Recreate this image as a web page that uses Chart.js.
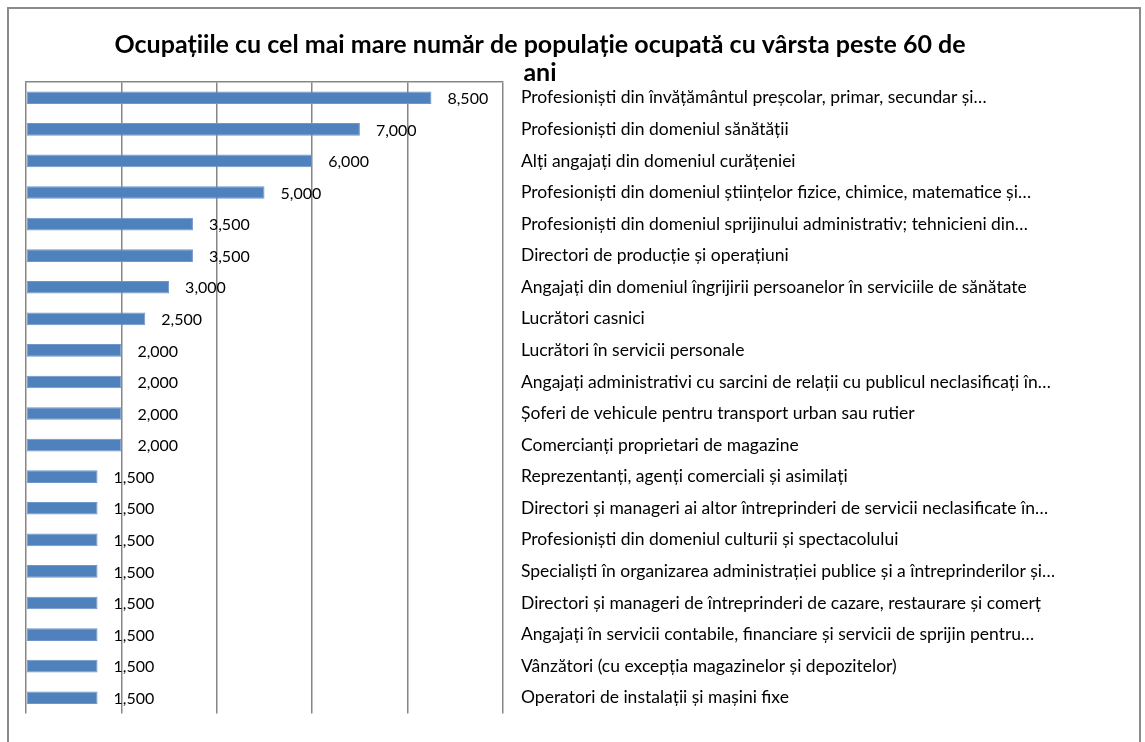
<!DOCTYPE html>
<html lang="ro">
<head>
<meta charset="utf-8">
<title>Ocupațiile cu cel mai mare număr de populație ocupată cu vârsta peste 60 de ani</title>
<script src="https://cdn.jsdelivr.net/npm/chart.js@4.4.1/dist/chart.umd.min.js"></script>
<style>
    html, body { margin: 0; padding: 0; background: #fff; }
    #wrap { position: relative; width: 1145px; height: 742px; overflow: hidden; }
    #frame {
        position: absolute;
        left: 7px;
        top: 7px;
        width: 1134px;
        height: 780px;
        border: 2px solid #8a8a8a;
        box-sizing: border-box;
    }
    #occChart { position: absolute; left: 0; top: 0; }
</style>
</head>
<body>
<div id="wrap">
    <div id="frame"></div>
    <canvas id="occChart" width="1145" height="742"></canvas>
</div>
<script>
const titleLines = [
    "Ocupațiile cu cel mai mare număr de populație ocupată cu vârsta peste 60 de",
    "ani"
];

const occupations = [
    "Profesioniști din învățământul preșcolar, primar, secundar și…",
    "Profesioniști din domeniul sănătății",
    "Alți angajați din domeniul curățeniei",
    "Profesioniști din domeniul științelor fizice, chimice, matematice și…",
    "Profesioniști din domeniul sprijinului administrativ; tehnicieni din…",
    "Directori de producție și operațiuni",
    "Angajați din domeniul îngrijirii persoanelor în serviciile de sănătate",
    "Lucrători casnici",
    "Lucrători în servicii personale",
    "Angajați administrativi cu sarcini de relații cu publicul neclasificați în…",
    "Șoferi de vehicule pentru transport urban sau rutier",
    "Comercianți proprietari de magazine",
    "Reprezentanți, agenți comerciali și asimilați",
    "Directori și manageri ai altor întreprinderi de servicii neclasificate în…",
    "Profesioniști din domeniul culturii și spectacolului",
    "Specialiști în organizarea administrației publice și a întreprinderilor și…",
    "Directori și manageri de întreprinderi de cazare, restaurare și comerț",
    "Angajați în servicii contabile, financiare și servicii de sprijin pentru…",
    "Vânzători (cu excepția magazinelor și depozitelor)",
    "Operatori de instalații și mașini fixe"
];

const employed = [8500, 7000, 6000, 5000, 3500, 3500, 3000, 2500, 2000, 2000,
                  2000, 2000, 1500, 1500, 1500, 1500, 1500, 1500, 1500, 1500];

// value axis
const axisMin = 0;
const axisMax = 10000;
const axisStep = 2000;

const fontFamily = "Lato, 'Open Sans', sans-serif";

// draws the numbers just right of each bar (no datalabels plugin available)
const valueLabels = {
    id: "valueLabels",
    afterDatasetsDraw(chart) {
        const ctx = chart.ctx;
        const meta = chart.getDatasetMeta(0);
        ctx.save();
        ctx.font = "16px " + fontFamily;
        ctx.fillStyle = "#000";
        ctx.textAlign = "left";
        ctx.textBaseline = "middle";
        meta.data.forEach((bar, i) => {
            ctx.fillText(employed[i].toLocaleString("en-US"), bar.x + 16, bar.y + 1);
        });
        ctx.restore();
    }
};

document.addEventListener("DOMContentLoaded", () => {
    const ctx = document.getElementById("occChart").getContext("2d");
    createChart(ctx);
});

function createChart(ctx) {
    return new Chart(ctx, {
        type: "bar",
        data: {
            labels: occupations,
            datasets: [{
                data: employed,
                backgroundColor: "#4f81bd",
                borderColor: "#6f97cb",
                borderWidth: 1,
                borderSkipped: false,
                categoryPercentage: 1,
                barPercentage: 0.4
            }]
        },
        options: {
            indexAxis: "y",
            responsive: false,
            animation: false,
            layout: {
                padding: { left: 26, right: 91, top: 0, bottom: 17 }
            },
            scales: {
                x: {
                    position: "top",
                    min: axisMin,
                    max: axisMax,
                    ticks: { display: false, stepSize: axisStep },
                    grid: { color: "#868686", lineWidth: 1.5, drawTicks: false },
                    border: { display: true, color: "#868686", width: 1.5 }
                },
                y: {
                    position: "right",
                    grid: { display: false, drawTicks: false },
                    border: { display: false },
                    ticks: {
                        autoSkip: false,
                        color: "#000",
                        crossAlign: "near",
                        padding: 18,
                        font: { family: fontFamily, size: 17.5 }
                    },
                    //fixed width so the plot ends at the same place as the picture
                    afterFit: (scale) => { scale.width = 551; }
                }
            },
            plugins: {
                legend: { display: false },
                tooltip: { enabled: false },
                title: {
                    display: true,
                    text: titleLines,
                    color: "#000",
                    font: { family: fontFamily, size: 25, weight: "bold", lineHeight: 1.12 },
                    padding: { top: 31, bottom: -5 }
                }
            }
        },
        plugins: [valueLabels]
    });
}
</script>
</body>
</html>
